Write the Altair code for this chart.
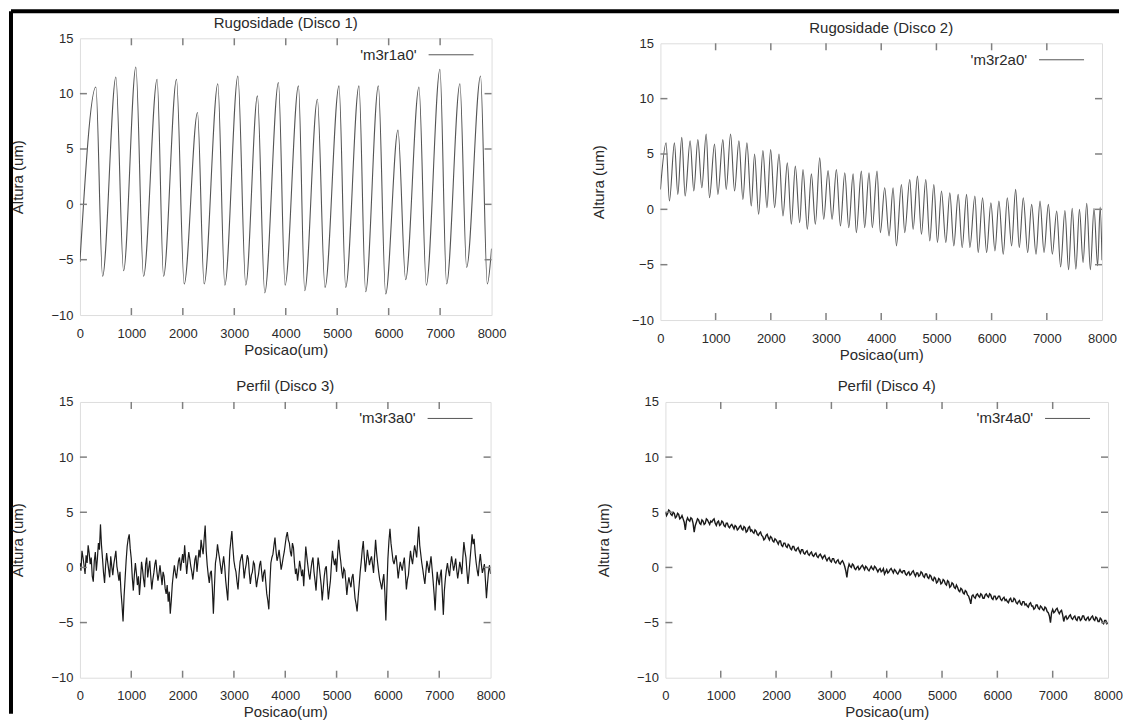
import altair as alt
import numpy as np
import pandas as pd

# ---------------- data ----------------
x_tick_values = [0, 1000, 2000, 3000, 4000, 5000, 6000, 7000, 8000]
y_tick_values = [-10, -5, 0, 5, 10, 15]
panel_titles = ["Rugosidade (Disco 1)", "Rugosidade (Disco 2)", "Perfil (Disco 3)", "Perfil (Disco 4)"]
legend_labels = ["'m3r1a0'", "'m3r2a0'", "'m3r3a0'", "'m3r4a0'"]
x_title = "Posicao(um)"
y_title = "Altura (um)"

# Disco 1: peaks / troughs of the roughness profile
p1_x = [0, 310, 440, 699, 848, 1087, 1236, 1500, 1625, 1877, 2026, 2285, 2414, 2680, 2816,
        3070, 3223, 3450, 3592, 3858, 3987, 4247, 4369, 4615, 4763, 5035, 5165, 5423, 5553,
        5800, 5942, 6181, 6330, 6589, 6732, 6997, 7126, 7385, 7515, 7786, 7917, 8000]
p1_y = [-5.2, 10.6, -6.5, 11.5, -6.0, 12.4, -6.5, 11.3, -6.5, 11.3, -7.2, 8.3, -7.2, 10.9, -7.3,
        11.6, -7.3, 9.8, -8.0, 11.0, -7.3, 10.7, -7.8, 9.5, -7.5, 10.7, -7.5, 10.7, -7.9,
        10.7, -8.1, 6.7, -6.8, 10.6, -7.3, 12.2, -7.2, 10.9, -5.7, 11.6, -7.2, -4.0]

# Disco 2: peaks / troughs
p2_x = [0, 103, 163, 254, 315, 387, 448, 538, 605, 678, 750, 829, 889, 980, 1041, 1131, 1192,
        1271, 1343, 1422, 1494, 1567, 1646, 1706, 1779, 1857, 1930, 1997, 2069, 2148, 2220,
        2299, 2372, 2444, 2523, 2583, 2662, 2735, 2807, 2886, 2958, 3037, 3110, 3188, 3261,
        3340, 3412, 3491, 3549, 3640, 3700, 3779, 3839, 3924, 3985, 4063, 4142, 4215, 4275,
        4366, 4426, 4517, 4578, 4656, 4729, 4807, 4880, 4953, 5019, 5092, 5170, 5243, 5315,
        5394, 5467, 5546, 5606, 5697, 5757, 5836, 5909, 5987, 6060, 6132, 6211, 6284, 6362,
        6435, 6501, 6574, 6653, 6725, 6804, 6877, 6949, 7028, 7100, 7179, 7250, 7328, 7394,
        7460, 7526, 7591, 7657, 7723, 7789, 7855, 7920, 7967, 8000]
p2_y = [1.8, 6.0, 0.75, 6.0, 1.35, 6.5, 1.2, 6.2, 1.65, 6.3, 1.95, 6.8, 1.05, 5.9, 1.35, 6.3, 1.8,
        6.8, 1.65, 6.2, 0.9, 6.0, 0.3, 5.0, -0.45, 5.3, 0.15, 5.4, 0.15, 5.0, -0.6,
        4.2, -1.35, 3.9, -1.2, 3.6, -1.8, 3.2, -1.35, 4.65, -0.9, 3.5, -0.9, 3.6, -1.5,
        3.3, -1.65, 3.2, -2.1, 3.45, -1.65, 3.3, -1.65, 3.45, -2.1, 1.95, -2.4, 1.95, -3.3,
        2.25, -2.1, 2.7, -1.8, 3.0, -2.25, 2.7, -2.85, 2.25, -3.0, 1.65, -3.0, 1.5, -3.3,
        1.35, -3.45, 1.35, -3.45, 1.2, -3.9, 1.05, -3.9, 0.6, -3.75, 0.75, -4.05, 1.05, -3.3,
        1.8, -3.45, 1.05, -3.9, 0.45, -4.05, 0.75, -3.9, 0.45, -4.05, -0.15, -5.2, -0.1, -5.45,
        0.1, -5.4, 0.0, -4.8, 0.55, -5.45, 0.1, -5.1, 0.2, -4.6]

# Disco 3: profile samples (0 .. 8000, evenly spaced, 20 um apart)
p3_y = [
    0.4, -0.3, 1.5, 0.9, 0.2, -0.6, 1.1, 0.4, 2.0, 1.3, 0.3, 0.9, -0.8, -1.3, 0.6, 1.4, -0.3, 0.8, 2.2, 1.6,
    3.9, 2.0, 0.8, -0.5, -1.4, 0.2, 1.3, 0.5, -0.2, -0.9, 1.0, 0.1, -0.7, 0.3, 0.9, 1.5, 0.1, -0.5, -1.2, -0.4,
    -2.2, -3.4, -4.9, -2.6, -1.0, 0.6, 1.9, 2.6, 3.0, 1.7, 0.8, -0.9, -2.1, -0.7, 0.4, -0.5, -1.6, -0.8, -2.5, -1.2,
    0.5, -0.2, -1.1, -1.8, 0.3, 0.9, -0.9, -0.1, 0.6, -0.8, -2.0, -1.1, -0.5, 0.3, 0.7, -0.4, -1.2, -0.6, 0.2, -0.7,
    -1.6, -0.4, -0.8, -1.9, -2.4, -1.6, -3.1, -2.2, -4.2, -3.0, -1.5, -0.6, 0.2, -0.5, -1.0, -0.2, 0.6, 0.9, -0.3, 0.5,
    1.2, 0.4, 2.0, 0.7, -0.6, 0.5, 1.4, 0.8, 0.1, -0.4, -1.1, -0.2, 0.7, 1.1, -0.4, 0.6, 1.6, 0.9, 2.5, 1.8,
    1.2, 2.6, 3.8, 1.5, 0.2, -0.7, -1.4, -0.5, -0.3, -1.9, -4.2, -1.8, 0.4, 1.0, 2.1, 1.4, 0.8, 0.1, -0.6, 0.3,
    1.0, 0.1, -1.2, -2.1, -3.0, -0.6, 1.5, 2.4, 3.3, 1.8, 0.6, 0.0, -0.4, -1.3, -2.0, -0.6, 0.5, 0.9, 1.2, 0.2,
    -1.0, -0.2, 0.3, 1.1, 0.8, -0.5, -1.5, -0.7, -0.4, 0.5, 0.3, -0.9, -1.8, -1.1, -0.6, 0.2, 0.6, -0.4, -1.3, -0.5,
    -0.2, -1.3, -2.4, -3.0, -3.8, -1.5, 0.4, 0.9, 1.2, 2.0, 2.7, 1.5, 0.6, 1.0, 1.6, 0.7, -0.2, 0.3, 0.9, 1.4,
    2.1, 2.8, 3.2, 2.5, 2.2, 1.4, 1.0, 2.2, 1.8, 0.4, -0.6, -0.1, -1.2, -0.4, 0.6, 0.0, -0.8, -0.2, -1.7, 0.1,
    1.9, 1.0, 0.2, -0.6, -1.1, -0.2, 0.5, 0.9, -0.4, -1.2, -2.1, -0.5, 0.9, 0.2, -0.7, -1.6, -3.0, -1.9, -0.8, -0.1,
    0.1, -1.5, -2.9, -2.0, -1.2, 0.3, 1.5, 0.7, 0.2, 0.8, -0.4, 1.2, 2.5, 1.4, 0.6, -0.3, -1.0, -0.1, -0.3, -1.3,
    -2.5, -1.5, -0.9, -1.4, -1.8, -0.9, -0.6, -1.7, -2.8, -3.3, -4.0, -2.7, -1.6, -0.4, 0.5, 1.6, 2.4, 0.9, -0.4, 0.5,
    1.6, 0.9, 0.2, 0.7, 1.0, 0.3, -0.5, 1.0, 2.5, 1.3, 0.4, -0.4, -1.1, -1.5, -2.0, -1.2, -0.6, -2.2, -4.8, -1.9,
    0.8, 2.4, 3.5, 2.2, 1.4, 0.6, 0.3, 0.8, 1.1, 0.1, -1.0, -0.2, 0.5, 0.1, -0.3, 0.4, 0.9, -0.5, -2.0, -1.1,
    -0.7, 0.5, 1.5, 0.8, 0.3, 1.2, 2.0, 1.5, 0.9, 2.4, 3.7, 2.0, 1.2, 0.4, -0.2, -0.9, -1.5, -0.4, 0.6, 0.1,
    -0.5, 0.3, 1.0, -0.1, -1.2, -2.4, -3.9, -1.8, -0.4, -1.1, -1.6, -0.7, -0.2, -2.3, -4.3, -2.1, -1.0, -0.2, 0.4, -0.3,
    -0.8, 0.2, 1.0, 0.4, -0.3, 0.2, 0.8, -0.2, -1.0, -0.3, 0.5, 0.0, -0.6, 0.9, 2.3, 1.5, 0.9, -0.4, -1.5, -0.5,
    0.7, 1.8, 3.0, 2.1, 2.6, 1.3, 0.4, -0.3, -0.8, 0.4, 1.2, 0.3, -0.5, -0.1, 0.3, -1.2, -2.8, -1.5, -0.4, 0.2,
    -0.6]

# Disco 4: profile samples (0 .. 8000, evenly spaced, 20 um apart)
p4_y = [
    5.0, 4.7, 4.9, 5.2, 5.1, 4.8, 4.7, 5.0, 4.9, 4.5, 4.6, 4.9, 4.8, 4.4, 4.5, 4.7, 4.4, 4.1, 3.4, 4.2,
    4.5, 4.3, 4.2, 4.5, 4.4, 4.0, 3.2, 3.8, 4.1, 4.4, 4.3, 4.0, 3.9, 4.3, 4.2, 3.9, 4.0, 4.4, 4.3, 4.1,
    3.9, 4.2, 4.1, 4.3, 4.4, 4.0, 3.8, 4.1, 4.2, 3.8, 3.9, 4.2, 4.1, 3.8, 3.7, 4.0, 4.0, 3.7, 3.6, 3.8,
    3.9, 3.7, 3.5, 3.8, 3.7, 3.4, 3.5, 3.7, 3.8, 3.5, 3.4, 3.7, 3.6, 3.2, 3.3, 3.6, 3.7, 3.3, 3.4, 3.2,
    3.1, 3.4, 3.3, 3.0, 2.9, 3.1, 3.2, 2.9, 2.8, 2.5, 2.6, 2.9, 3.0, 2.7, 2.5, 2.8, 2.7, 2.4, 2.3, 2.6,
    2.5, 2.3, 2.1, 2.4, 2.4, 2.0, 1.9, 2.2, 2.2, 1.9, 1.8, 2.1, 2.0, 1.7, 1.6, 1.9, 1.9, 1.6, 1.5, 1.7,
    1.8, 1.5, 1.3, 1.6, 1.6, 1.3, 1.2, 1.4, 1.5, 1.2, 1.1, 1.3, 1.4, 1.1, 1.0, 1.2, 1.3, 1.0, 0.9, 1.1,
    1.2, 1.0, 0.8, 1.0, 1.1, 0.8, 0.6, 0.8, 0.9, 0.6, 0.5, 0.8, 0.8, 0.5, 0.4, 0.6, 0.7, 0.4, 0.3, 0.5,
    0.6, 0.4, 0.1, -0.3, -0.9, -0.1, 0.3, 0.1, 0.0, 0.3, 0.2, -0.1, -0.2, 0.0, 0.1, -0.2, -0.1, 0.1, 0.2, 0.0,
    -0.2, 0.1, 0.0, -0.2, -0.3, -0.1, 0.1, -0.1, -0.2, 0.1, 0.0, -0.2, -0.4, -0.2, -0.1, -0.4, -0.3, -0.1, -0.6, -0.4,
    -0.2, -0.5, -0.4, -0.2, -0.1, -0.3, -0.5, -0.2, -0.3, -0.5, -0.6, -0.4, -0.2, -0.4, -0.5, -0.3, -0.3, -0.6, -0.7, -0.5,
    -0.4, -0.7, -0.6, -0.4, -0.3, -0.6, -0.8, -0.5, -0.5, -0.8, -0.7, -0.4, -0.5, -0.8, -0.9, -0.6, -0.6, -0.9, -1.0, -0.7,
    -0.8, -1.1, -1.2, -0.9, -1.0, -1.4, -1.3, -1.0, -1.1, -1.5, -1.4, -1.1, -1.2, -1.5, -1.6, -1.2, -1.3, -1.8, -1.7, -1.4,
    -1.5, -1.8, -1.9, -1.6, -1.8, -2.1, -2.2, -1.9, -2.0, -2.3, -2.4, -2.1, -2.2, -2.5, -2.6, -2.9, -3.3, -2.6, -2.5, -2.7,
    -2.8, -2.5, -2.4, -2.6, -2.7, -2.4, -2.5, -2.8, -2.8, -2.5, -2.4, -2.6, -2.7, -2.4, -2.5, -2.8, -2.9, -2.6, -2.6, -2.9,
    -2.8, -2.6, -2.6, -2.9, -3.0, -2.8, -2.7, -3.0, -2.9, -3.1, -3.2, -2.9, -2.8, -3.1, -3.1, -2.8, -2.9, -3.2, -3.3, -3.1,
    -3.0, -3.3, -3.4, -3.1, -3.1, -3.4, -3.3, -3.5, -3.6, -3.3, -3.2, -3.5, -3.5, -3.8, -3.7, -3.4, -3.4, -3.7, -3.8, -3.5,
    -3.6, -3.8, -3.9, -3.6, -3.7, -4.0, -4.1, -4.4, -5.0, -4.1, -3.8, -4.1, -4.0, -3.8, -3.7, -4.0, -4.2, -4.0, -3.9, -4.3,
    -4.9, -4.5, -4.4, -4.7, -4.6, -4.4, -4.3, -4.6, -4.7, -4.5, -4.4, -4.7, -4.8, -4.5, -4.5, -4.8, -4.7, -4.4, -4.4, -4.7,
    -4.8, -4.6, -4.5, -4.8, -4.7, -4.5, -4.4, -4.7, -4.8, -4.5, -4.6, -4.9, -4.9, -4.6, -4.7, -5.0, -5.1, -4.8, -4.8, -5.1,
    -5.0]

p3_x = np.linspace(0, 8000, len(p3_y))
p4_x = np.linspace(0, 8000, len(p4_y))

# ---------------- style ----------------
FONT = "Liberation Sans"
TEXT = "#2a2a2a"
FRAME = "#808080"
TICK_FS = 13
TEXT_FS = 15


def panel(xs, ys, W, H, title, label, interp, color, lw, border=False):
    xsc = alt.Scale(domain=[0, 8000], nice=False, zero=False)
    ysc = alt.Scale(domain=[-10, 15], nice=False, zero=False)
    xaxis = alt.Axis(values=x_tick_values, format="d", ticks=False, tickSize=0, domain=False,
                     grid=False, labelPadding=18, labelBaseline="middle", labelFlush=False,
                     labelFontSize=TICK_FS, labelColor=TEXT, labelFont=FONT,
                     title=x_title, titleX=W / 2, titleY=34, titleBaseline="middle",
                     titleAlign="center", titleFontSize=TEXT_FS, titleFontWeight="normal",
                     titleColor=TEXT, titleFont=FONT)
    yaxis = alt.Axis(values=y_tick_values, ticks=False, tickSize=0, domain=False, grid=False,
                     labelPadding=7, labelBaseline="middle", labelFontSize=TICK_FS,
                     labelColor=TEXT, labelFont=FONT,
                     title=y_title, titleX=-62, titleY=H / 2, titleBaseline="middle",
                     titleAlign="center", titleFontSize=TEXT_FS, titleFontWeight="normal",
                     titleColor=TEXT, titleFont=FONT)

    def X(f):
        return alt.X(f, scale=xsc, axis=xaxis)

    def Y(f):
        return alt.Y(f, scale=ysc, axis=yaxis)

    df = pd.DataFrame({"x": list(xs), "y": list(ys)})
    line = alt.Chart(df).mark_line(color=color, strokeWidth=lw, interpolate=interp, clip=True).encode(
        x=X("x:Q"), y=Y("y:Q"))

    # inward ticks on all four sides (gnuplot style)
    tlx = 7 * 8000 / W
    tly = 7 * 25 / H
    xt = pd.DataFrame({"t": x_tick_values[1:-1]})
    xt["a"] = -10
    xt["b"] = -10 + tly
    xt["c"] = 15
    xt["d"] = 15 - tly
    yt = pd.DataFrame({"t": y_tick_values[1:-1]})
    yt["a"] = 0
    yt["b"] = tlx
    yt["c"] = 8000
    yt["d"] = 8000 - tlx
    tick_style = dict(color=FRAME, strokeWidth=1.5)
    tb = alt.Chart(xt).mark_rule(**tick_style).encode(x=X("t:Q"), y=Y("a:Q"), y2="b:Q")
    tt = alt.Chart(xt).mark_rule(**tick_style).encode(x=X("t:Q"), y=Y("c:Q"), y2="d:Q")
    tl = alt.Chart(yt).mark_rule(**tick_style).encode(y=Y("t:Q"), x=X("a:Q"), x2="b:Q")
    tr = alt.Chart(yt).mark_rule(**tick_style).encode(y=Y("t:Q"), x=X("c:Q"), x2="d:Q")

    # key (label left of a short line sample) and the panel title
    leg = pd.DataFrame({
        "tx": [(W - 75) / W * 8000], "x1": [(W - 63) / W * 8000], "x2": [(W - 18) / W * 8000],
        "y": [15 - 16.5 / H * 25], "label": [label],
        "hx": [4000], "hy": [15 + 15.5 / H * 25], "title": [title]})
    ltext = alt.Chart(leg).mark_text(align="right", baseline="middle", fontSize=TEXT_FS, font=FONT,
                                     color=TEXT).encode(x=X("tx:Q"), y=Y("y:Q"), text="label:N")
    lline = alt.Chart(leg).mark_rule(color="#555555", strokeWidth=1).encode(
        x=X("x1:Q"), x2="x2:Q", y=Y("y:Q"))
    htext = alt.Chart(leg).mark_text(align="center", baseline="middle", fontSize=TEXT_FS, font=FONT,
                                     color=TEXT).encode(x=X("hx:Q"), y=Y("hy:Q"), text="title:N")
    layers = [line, tb, tt, tl, tr, ltext, lline, htext]
    if border:
        bdf = pd.DataFrame({"k": [0]})
        btop = alt.Chart(bdf).mark_rule(color="black", strokeWidth=4).encode(
            x=alt.value(-69), x2=alt.value(1040), y=alt.value(-27))
        bleft = alt.Chart(bdf).mark_rule(color="black", strokeWidth=4).encode(
            x=alt.value(-69), y=alt.value(-27), y2=alt.value(676))
        layers += [btop, bleft]
    return alt.layer(*layers).properties(width=W, height=H)


def spacer():
    return alt.Chart(pd.DataFrame({"k": [0]})).mark_point(opacity=0).encode(
        x=alt.value(0), y=alt.value(0)
    ).properties(width=1, height=1, view=alt.ViewBackground(stroke="transparent"))


c1 = panel(p1_x, p1_y, 412, 277, panel_titles[0], legend_labels[0], "monotone", "#555555", 1.1, border=True)
c2 = panel(p2_x, p2_y, 442, 277, panel_titles[1], legend_labels[1], "monotone", "#555555", 1.1)
c3 = panel(p3_x, p3_y, 411, 276, panel_titles[2], legend_labels[2], "linear", "#1a1a1a", 1.2)
c4 = panel(p4_x, p4_y, 443, 276, panel_titles[3], legend_labels[3], "linear", "#1a1a1a", 1.4)

c2w = alt.vconcat(spacer(), c2, spacing=4, bounds="flush")
c4w = alt.hconcat(spacer(), c4, spacing=4, bounds="flush")

chart = alt.concat(
    c1, c2w, c3, c4w, columns=2, bounds="flush", align="each",
    spacing={"row": 87, "column": 169}, padding=0,
).configure_view(stroke=FRAME, strokeWidth=1.5).configure(font=FONT)

chart.save("out.html", embed_options={"renderer": "svg", "actions": False})
